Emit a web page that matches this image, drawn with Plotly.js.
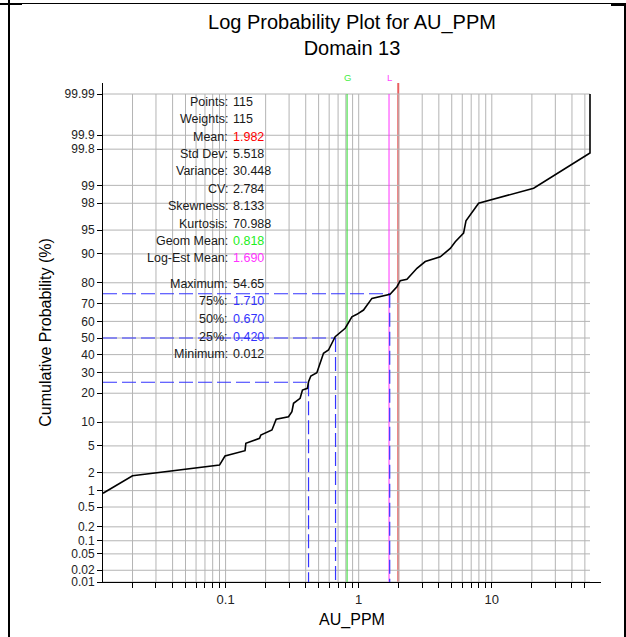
<!DOCTYPE html>
<html><head><meta charset="utf-8">
<script src="https://cdn.plot.ly/plotly-3.0.1.min.js"></script>
<style>
body{margin:0;background:#fff;}
#wrap{position:relative;width:626px;height:637px;overflow:hidden;}
#chart{position:absolute;left:0;top:0;width:626px;height:637px;}
.ln{position:absolute;background:#000;}
</style></head><body>
<div id="wrap"><div id="chart"></div>
<div class="ln" style="left:8px;top:0;width:2px;height:637px"></div>
<div class="ln" style="left:0;top:3px;width:626px;height:1px"></div>
<div class="ln" style="left:0;top:3px;width:22px;height:2px"></div>
<div class="ln" style="left:611px;top:4px;width:15px;height:2px"></div>
<div class="ln" style="left:624px;top:3px;width:2px;height:634px"></div>
</div>
<script>
// ---- data ----
const auValues = [0.012,0.020,0.090,0.099,0.140,0.142,0.180,0.184,0.223,0.240,0.297,0.315,0.324,0.363,0.378,0.412,0.420,0.437,0.485,0.544,0.593,0.666,0.792,0.889,0.969,1.087,1.257,1.72,1.938,2.051,2.304,2.512,2.739,3.162,4.10,4.875,5.316,6.137,6.397,7.958,20.62,54.65,54.65];
const cumProb  = [0.90,1.79,2.64,3.60,4.29,5.42,6.31,6.96,8.04,10.77,11.51,13.07,15.98,17.90,21.39,22.15,25.27,28.13,29.84,40.78,42.74,50.8,55.9,62.7,64.1,66.5,72.7,74.7,78.3,80.9,81.5,83.8,85.6,87.8,89.2,91.4,92.9,94.5,96.3,98.0,98.88,99.76,99.99];

const probTickVals = [0.01,0.02,0.05,0.1,0.2,0.5,1,2,5,10,20,30,40,50,60,70,80,90,95,98,99,99.8,99.9,99.99];
const probTickText = ["0.01","0.02","0.05","0.1","0.2","0.5","1","2","5","10","20","30","40","50","60","70","80","90","95","98","99","99.8","99.9","99.99"];
const xTickVals = [0.02,0.03,0.04,0.05,0.06,0.07,0.08,0.09,0.1,0.2,0.3,0.4,0.5,0.6,0.7,0.8,0.9,1,2,3,4,5,6,7,8,9,10,20,30,40,50];
const xTickText = ["","","","","","","","","0.1","","","","","","","","","1","","","","","","","","","10","","","",""];

const statLabels = ["Points:","Weights:","Mean:","Std Dev:","Variance:","CV:","Skewness:","Kurtosis:","Geom Mean:","Log-Est Mean:"];
const statValues = ["115","115","1.982","5.518","30.448","2.784","8.133","70.988","0.818","1.690"];
const quantLabels = ["Maximum:","75%:","50%:","25%:","Minimum:"];
const quantValues = ["54.65","1.710","0.670","0.420","0.012"];

const minValue = 0.012, maxValue = 54.65;
const meanValue = 1.982, geomMean = 0.818, logEstMean = 1.690;
const quartileValues = [0.420, 0.670, 1.710];
const quartileProbs = [25, 50, 75];

// ---- probability scale (normal quantile) ----
function probit(p){
  const a=[-3.969683028665376e+01,2.209460984245205e+02,-2.759285104469687e+02,1.383577518672690e+02,-3.066479806614716e+01,2.506628277459239e+00];
  const b=[-5.447609879822406e+01,1.615858368580409e+02,-1.556989798598866e+02,6.680131188771972e+01,-1.328068155288572e+01];
  const c=[-7.784894002430293e-03,-3.223964580411365e-01,-2.400758277161838e+00,-2.549732539343734e+00,4.374664141464968e+00,2.938163982698783e+00];
  const d=[7.784695709041462e-03,3.224671290700398e-01,2.445134137142996e+00,3.754408661907416e+00];
  const pl=0.02425, ph=1-pl; let q,r;
  if(p<pl){q=Math.sqrt(-2*Math.log(p));return (((((c[0]*q+c[1])*q+c[2])*q+c[3])*q+c[4])*q+c[5])/((((d[0]*q+d[1])*q+d[2])*q+d[3])*q+1);}
  if(p<=ph){q=p-0.5;r=q*q;return (((((a[0]*r+a[1])*r+a[2])*r+a[3])*r+a[4])*r+a[5])*q/(((((b[0]*r+b[1])*r+b[2])*r+b[3])*r+b[4])*r+1);}
  q=Math.sqrt(-2*Math.log(1-p));return -(((((c[0]*q+c[1])*q+c[2])*q+c[3])*q+c[4])*q+c[5])/((((d[0]*q+d[1])*q+d[2])*q+d[3])*q+1);
}
const Z = pct => probit(pct/100);

// ---- geometry ----
const W=626, H=637, ML=103, MR=25, MT=83, MB=55;
const PW=W-ML-MR, PH=H-MT-MB;
const zBot = Z(0.01), zTopGrid = Z(99.99);
const pxPerZ = (PH-11)/(zTopGrid-zBot);
const zTop = zBot + PH/pxPerZ;
const xl = Math.log10(minValue);
const pxPerDec = (PW-11)/(Math.log10(maxValue)-xl);
const xr = xl + PW/pxPerDec;
const px2paperX = px => (px-ML)/PW;
const px2paperY = py => (H-MB-py)/PH;

const FONT = 'Arial, "Liberation Sans", sans-serif';
const gridColor = '#b4b4b4';
const shapes = [];
xTickVals.forEach(v => shapes.push({type:'line',xref:'x',yref:'y',x0:v,x1:v,y0:zBot,y1:zTopGrid,layer:'below',line:{color:gridColor,width:1}}));
probTickVals.forEach(p => shapes.push({type:'line',xref:'x',yref:'y',x0:minValue,x1:maxValue,y0:Z(p),y1:Z(p),layer:'below',line:{color:gridColor,width:1}}));
shapes.push({type:'line',xref:'x',yref:'y',x0:geomMean,x1:geomMean,y0:zBot,y1:zTopGrid,layer:'below',line:{color:'#33dd33',width:1}});
shapes.push({type:'line',xref:'x',yref:'y',x0:logEstMean,x1:logEstMean,y0:zBot,y1:zTopGrid,layer:'below',line:{color:'#ff33ff',width:1}});
quartileValues.forEach((q,i) => {
  const zq = Z(quartileProbs[i]);
  shapes.push({type:'line',xref:'x',yref:'y',x0:minValue,x1:q,y0:zq,y1:zq,layer:'below',line:{color:'#3535ff',width:1.2,dash:'14px,5px'}});
  shapes.push({type:'line',xref:'x',yref:'y',x0:q,x1:q,y0:zq,y1:zBot,layer:'below',line:{color:'#3535ff',width:1.2,dash:'14px,5px'}});
});
shapes.push({type:'line',xref:'x',yref:'paper',x0:meanValue,x1:meanValue,y0:0,y1:1,layer:'below',line:{color:'#e86060',width:2}});

const annotations = [];
const colorsStat = statValues.map((v,i)=> i===2?'#ff0000':(i===8?'#22ee22':(i===9?'#ff33ff':'#1a1a1a')));
const colorsQuant = quantValues.map((v,i)=> (i>=1&&i<=3)?'#3333ff':'#1a1a1a');
function addRow(label, value, color, py){
  annotations.push({xref:'paper',yref:'paper',x:px2paperX(228.5),y:px2paperY(py),xanchor:'right',yanchor:'middle',text:label,showarrow:false,borderpad:0,font:{family:FONT,size:12.5,color:'#1a1a1a'}});
  annotations.push({xref:'paper',yref:'paper',x:px2paperX(231.5),y:px2paperY(py),xanchor:'left',yanchor:'middle',text:value,showarrow:false,borderpad:0,font:{family:FONT,size:12.5,color:color}});
}
statLabels.forEach((l,i)=>addRow(l,statValues[i],colorsStat[i],101.7+i*17.4));
quantLabels.forEach((l,i)=>addRow(l,quantValues[i],colorsQuant[i],283.5+i*17.7));
annotations.push({xref:'x',yref:'paper',x:Math.log10(geomMean),y:px2paperY(77),text:'G',showarrow:false,xanchor:'center',yanchor:'middle',font:{family:FONT,size:9.5,color:'#44ee44'}});
annotations.push({xref:'x',yref:'paper',x:Math.log10(logEstMean),y:px2paperY(77),text:'L',showarrow:false,xanchor:'center',yanchor:'middle',font:{family:FONT,size:9.5,color:'#ff44ff'}});

const trace = {x:auValues,y:cumProb.map(Z),type:'scatter',mode:'lines',line:{color:'#000',width:1.6},hoverinfo:'skip'};

const layout = {
  width:W,height:H,margin:{l:ML,r:MR,t:MT,b:MB},
  paper_bgcolor:'#fff',plot_bgcolor:'#fff',showlegend:false,
  font:{family:FONT,color:'#1a1a1a'},
  title:{text:'Log Probability Plot for AU_PPM<br>Domain 13',font:{family:FONT,size:20,color:'#000'},x:0.5,xref:'paper',y:1-29/H,yref:'container',yanchor:'middle'},
  xaxis:{type:'log',range:[xl,xr],showgrid:false,zeroline:false,showline:true,linecolor:'#000',linewidth:1,
    tickmode:'array',tickvals:xTickVals,ticktext:xTickText,ticks:'outside',ticklen:5,tickcolor:'#000',
    tickfont:{family:FONT,size:13,color:'#222'},
    title:{text:'AU_PPM',font:{family:FONT,size:16,color:'#000'},standoff:8}},
  yaxis:{range:[zBot,zTop],showgrid:false,zeroline:false,showline:true,linecolor:'#000',linewidth:1,
    tickmode:'array',tickvals:probTickVals.map(Z),ticktext:probTickText,ticks:'outside',ticklen:5,tickcolor:'#000',
    tickfont:{family:FONT,size:12,color:'#222'},
    title:{text:'Cumulative Probability (%)',font:{family:FONT,size:16,color:'#000'},standoff:8}},
  shapes:shapes,annotations:annotations
};
Plotly.newPlot('chart',[trace],layout,{staticPlot:true,displayModeBar:false});
</script></body></html>
